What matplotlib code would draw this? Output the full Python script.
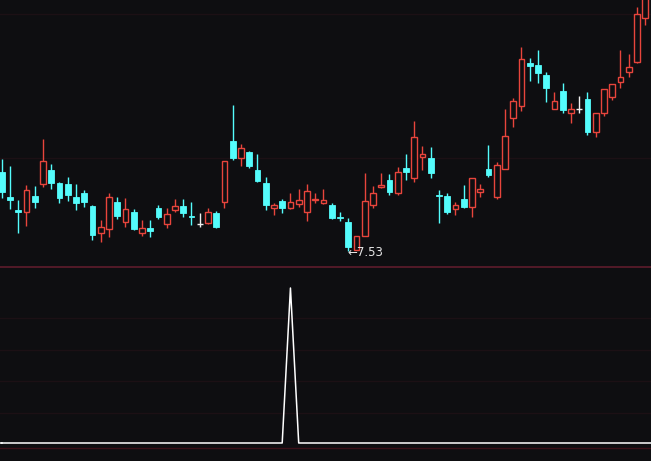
import matplotlib
matplotlib.use("Agg")
import matplotlib.pyplot as plt
import numpy as np

# ---- data (prices) ----
opens = [8.32, 8.07, 7.94, 7.92, 8.08, 8.20, 8.34, 8.21, 8.20, 8.07,
         8.11, 7.98, 7.71, 7.75, 8.02, 7.82, 7.92, 7.71, 7.76, 7.96,
         7.80, 7.94, 7.98, 7.88, 7.80, 7.81, 7.91, 8.02, 8.63, 8.46,
         8.52, 8.34, 8.21, 7.96, 8.03, 7.96, 8.00, 7.92, 8.04, 8.01,
         7.99, 7.87, 7.82, 7.54, 7.68, 7.99, 8.17, 8.24, 8.11, 8.36,
         8.26, 8.47, 8.46, 8.09, 8.08, 7.95, 8.05, 7.97, 8.12, 8.35,
         8.07, 8.35, 8.86, 8.98, 9.41, 9.39, 9.29, 8.95, 9.13, 8.91,
         8.95, 9.05, 8.72, 8.91, 9.07, 9.22, 9.32, 9.42, 9.86, 10.09]
highs = [8.45, 8.38, 8.04, 8.19, 8.18, 8.65, 8.40, 8.22, 8.27, 8.20,
         8.14, 7.99, 7.84, 8.11, 8.07, 8.06, 7.95, 7.84, 7.84, 7.99,
         7.96, 8.05, 8.05, 8.02, 7.91, 7.96, 7.93, 8.43, 8.99, 8.60,
         8.53, 8.50, 8.27, 8.01, 8.05, 8.11, 8.15, 8.20, 8.11, 8.15,
         8.01, 7.92, 7.86, 7.68, 8.31, 8.18, 8.31, 8.30, 8.37, 8.50,
         8.83, 8.58, 8.57, 8.14, 8.11, 8.02, 8.19, 8.26, 8.20, 8.59,
         8.42, 8.95, 9.06, 9.57, 9.46, 9.54, 9.32, 9.12, 9.21, 9.01,
         9.08, 9.12, 8.91, 9.15, 9.20, 9.54, 9.50, 9.97, 10.12, 10.14]
lows = [8.06, 7.95, 7.71, 7.78, 7.96, 8.17, 8.15, 8.01, 8.03, 7.94,
        7.97, 7.64, 7.62, 7.67, 7.85, 7.77, 7.74, 7.68, 7.67, 7.85,
        7.76, 7.92, 7.87, 7.79, 7.77, 7.80, 7.76, 7.96, 8.44, 8.38,
        8.36, 8.22, 7.94, 7.89, 7.91, 7.95, 7.97, 7.83, 8.01, 8.00,
        7.85, 7.83, 7.53, 7.54, 7.68, 7.96, 8.16, 8.09, 8.09, 8.24,
        8.22, 8.34, 8.26, 7.81, 7.90, 7.89, 7.96, 7.87, 8.07, 8.27,
        8.05, 8.35, 8.77, 8.93, 9.23, 9.21, 9.02, 8.95, 8.91, 8.81,
        8.91, 8.69, 8.67, 8.88, 9.04, 9.16, 9.27, 9.41, 9.79, 9.84]
closes = [8.12, 8.04, 7.92, 8.14, 8.02, 8.43, 8.21, 8.06, 8.09, 8.01,
          8.02, 7.69, 7.77, 8.07, 7.88, 7.95, 7.75, 7.76, 7.73, 7.87,
          7.90, 7.98, 7.91, 7.87, 7.80, 7.92, 7.77, 8.43, 8.46, 8.56,
          8.38, 8.23, 7.99, 7.99, 7.96, 8.02, 8.04, 8.13, 8.05, 8.04,
          7.86, 7.86, 7.57, 7.68, 8.03, 8.11, 8.19, 8.12, 8.32, 8.32,
          8.67, 8.50, 8.31, 8.08, 7.92, 7.99, 7.97, 8.26, 8.15, 8.29,
          8.39, 8.68, 9.03, 9.45, 9.38, 9.31, 9.16, 9.03, 8.94, 8.95,
          8.95, 8.72, 8.91, 9.15, 9.20, 9.27, 9.37, 9.90, 10.07, 9.89]
signal = [0] * 80
signal[35] = 1

# ---- style ----
BG = "#0e0e11"
UP = "#e8453c"
DOWN = "#54fcfc"
FLAT = "#f0f0f0"
SEP = "#5e1c2c"
GRID = "#1c1015"

W, H = 651, 461
fig = plt.figure(figsize=(W / 100, H / 100), dpi=100, facecolor=BG)

# background axes in pixel units for separator / grid lines
bg = fig.add_axes([0, 0, 1, 1], facecolor=BG)
bg.set_xlim(0, W)
bg.set_ylim(H, 0)
bg.axis("off")
for yy in [14, 158, 318, 350, 381, 413]:
    bg.axhline(yy, color=GRID, lw=1.0)
bg.axhline(266.5, color=SEP, lw=1.2)
bg.axhline(447.5, color="#3a1018", lw=1.0)

n = len(opens)
x0_px, step_px = 1.7, 8.25
xlim = (-x0_px / step_px, (W - x0_px) / step_px)

# ---- price panel ----
top_h = 266
ax = fig.add_axes([0, (H - top_h) / H, 1, top_h / H])
ax.patch.set_alpha(0)
ax.set_xlim(*xlim)
ax.set_ylim(10.04 - top_h / 100, 10.04)
ax.axis("off")

bw = 0.7
for i in range(n):
    o, h, l, c = opens[i], highs[i], lows[i], closes[i]
    if c > o:
        col = UP
    elif c < o:
        col = DOWN
    else:
        col = FLAT
    top, bot = max(o, c), min(o, c)
    if col == UP:
        ax.vlines(i, top, h, color=col, lw=1.0)
        ax.vlines(i, l, bot, color=col, lw=1.0)
        ax.add_patch(plt.Rectangle((i - bw / 2, bot), bw, top - bot,
                                   facecolor=BG, edgecolor=col, lw=1.0))
    elif col == DOWN:
        ax.vlines(i, l, h, color=col, lw=1.0)
        ax.add_patch(plt.Rectangle((i - bw / 2, bot), bw, max(top - bot, 0.012),
                                   facecolor=col, edgecolor=col, lw=0.6))
    else:
        ax.vlines(i, l, h, color=col, lw=1.0)
        ax.hlines(o, i - bw / 2, i + bw / 2, color=col, lw=1.0)

imin = int(np.argmin(lows))
ax.text(imin - 0.1, lows[imin] - 0.02, "\u2190" + f"{lows[imin]:.2f}",
        color="#e6e6e6", fontsize=8.5, ha="left", va="center",
        family="DejaVu Sans")

# ---- indicator panel ----
low_top = 267
ax2 = fig.add_axes([0, 0, 1, (H - low_top) / H])
ax2.patch.set_alpha(0)
ax2.set_xlim(*xlim)
ax2.set_ylim(-18 / 155, 1 + 21 / 155)
ax2.axis("off")
ax2.plot(range(n), signal, color="white", lw=1.1)
ax2.axhline(signal[0], xmax=1.0 / (xlim[1] - xlim[0]) * (0 - xlim[0]),
            color="white", lw=1.1)

fig.savefig("out.png", dpi=100, facecolor=BG)
